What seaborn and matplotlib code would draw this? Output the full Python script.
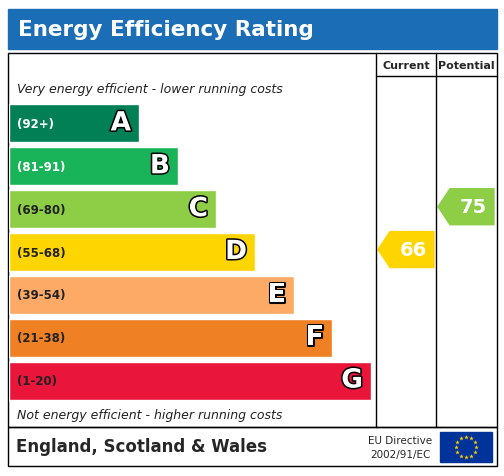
import matplotlib
matplotlib.use("Agg")
import matplotlib.pyplot as plt
import matplotlib.patheffects as pe
from matplotlib.patches import Rectangle, Polygon
import seaborn as sns
import pandas as pd

bands = ["A", "B", "C", "D", "E", "F", "G"]
ranges = ["(92+)", "(81-91)", "(69-80)", "(55-68)", "(39-54)", "(21-38)", "(1-20)"]
bar_lengths = [130, 169, 207, 246, 285, 323, 362]
colors = ["#008054", "#19b459", "#8dce46", "#ffd500", "#fcaa65", "#ef8023", "#e9153b"]
current_score, current_band = 66, "D"
potential_score, potential_band = 75, "C"

sns.set_theme(style="white")
plt.rcParams['font.family'] = ['DejaVu Sans']
W, H = 504, 477
fig = plt.figure(figsize=(W/100, H/100), dpi=100)
ax0 = fig.add_axes([0, 0, 1, 1])
ax0.set_xlim(0, W); ax0.set_ylim(H, 0); ax0.axis("off")

# title bar
ax0.add_patch(Rectangle((8, 10), 489, 40, color="#1b6db5"))
ax0.text(18, 30, "Energy Efficiency Rating", color="white", fontsize=15.5, fontweight="bold", va="center")
# frames
lw = 1.0
ax0.add_patch(Rectangle((8, 54), 489, 374, fill=False, ec="black", lw=lw))
ax0.add_patch(Rectangle((8, 428), 489, 39, fill=False, ec="black", lw=lw))
ax0.plot([376, 376], [54, 428], color="black", lw=lw)
ax0.plot([436, 436], [54, 428], color="black", lw=lw)
ax0.plot([376, 497], [77, 77], color="black", lw=lw)
ax0.text(406, 66, "Current", fontsize=8, fontweight="bold", ha="center", va="center")
ax0.text(466, 66, "Potential", fontsize=8, fontweight="bold", ha="center", va="center")
ax0.text(17, 90, "Very energy efficient - lower running costs", fontsize=9, style="italic", va="center", color="#222")
ax0.text(17, 416, "Not energy efficient - higher running costs", fontsize=9, style="italic", va="center", color="#222")
ax0.text(16, 447, "England, Scotland & Wales", fontsize=12, fontweight="bold", va="center")
ax0.text(400, 441, "EU Directive", fontsize=7.5, ha="center", va="center")
ax0.text(400, 455, "2002/91/EC", fontsize=7.5, ha="center", va="center")
ax0.add_patch(Rectangle((440, 433), 52, 30, color="#003399"))
import numpy as np
for k in range(12):
    a = 2*np.pi*k/12
    ax0.plot(466 + 10*np.cos(a), 448 + 10*np.sin(a), marker="*", color="#ffcc00", ms=3.5, mec="none")

# bars via seaborn
top, pitch = 103, 300/7
ax = fig.add_axes([9/W, 1 - (top + 7*pitch)/H, (376-9)/W, 7*pitch/H])
df = pd.DataFrame({"band": bands, "len": bar_lengths})
sns.barplot(data=df, x="len", y="band", hue="band", palette=colors, orient="h",
            width=38/pitch, ax=ax, legend=False, saturation=1)
ax.set_xlim(0, 367); ax.axis("off"); ax.patch.set_alpha(0)
outline = [pe.withStroke(linewidth=2.2, foreground="black")]
for i, (b, r, L) in enumerate(zip(bands, ranges, bar_lengths)):
    tc = "white" if i in (0, 1, 6) else "#222"
    ax.text(8, i, r, color="white" if i in (0, 1) else "#222", fontsize=8.5, fontweight="bold", va="center")
    ax.text(L - 8, i, b, color="white", fontsize=19, fontweight="bold", ha="right", va="center", path_effects=outline)

def arrow(score, band, x0):
    i = bands.index(band)
    yc = top + pitch*i + 19 + (pitch*0 if False else 0)
    h = 18
    pts = [(x0, yc), (x0 + 12, yc - h), (x0 + 56, yc - h), (x0 + 56, yc + h), (x0 + 12, yc + h)]
    ax0.add_patch(Polygon(pts, color=colors[i]))
    ax0.text(x0 + 35, yc, str(score), color="white", fontsize=14, fontweight="bold", ha="center", va="center")

arrow(current_score, current_band, 378)
arrow(potential_score, potential_band, 438)
fig.savefig("out.png", dpi=100)
